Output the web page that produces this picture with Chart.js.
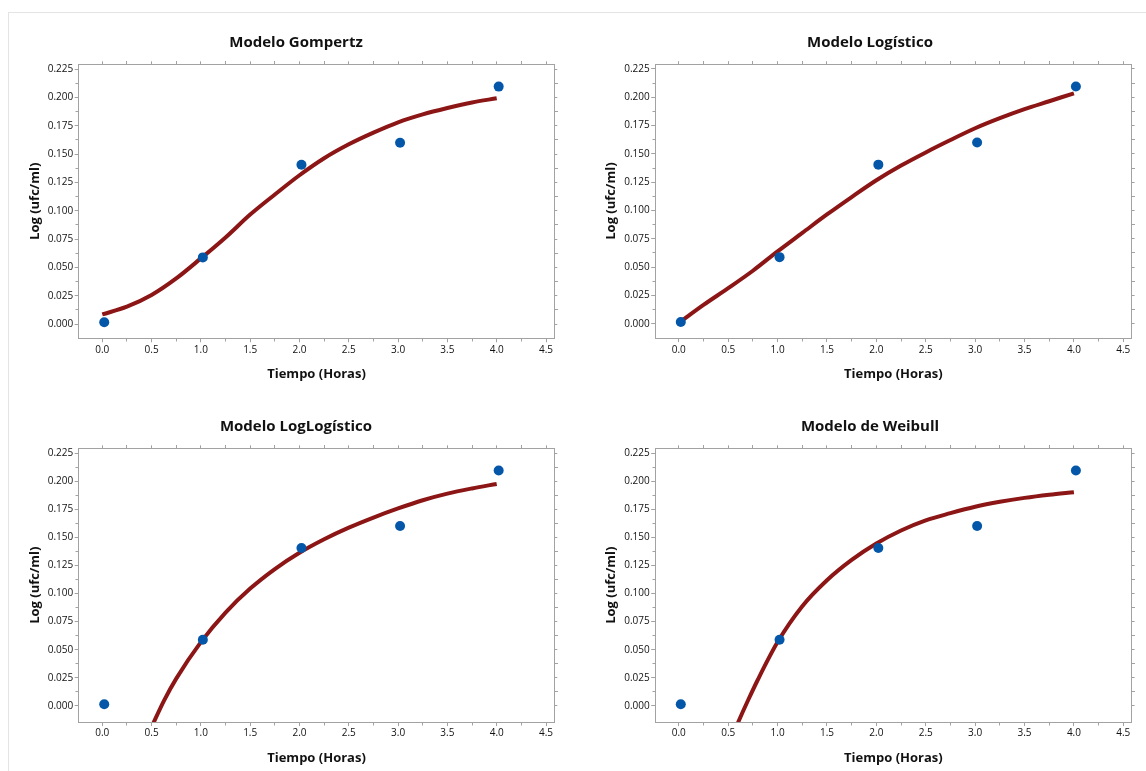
<!DOCTYPE html>
<html>
<head>
<meta charset="utf-8">
<script src="https://cdn.jsdelivr.net/npm/chart.js@4.4.0/dist/chart.umd.min.js"></script>
<style>
  html, body { margin: 0; padding: 0; background: #ffffff; width: 1146px; height: 771px; overflow: hidden; position: relative; }
  .frame { position: absolute; left: 8px; top: 12px; width: 1300px; height: 900px; border: 1px solid #e4e4e4; box-sizing: border-box; }
  .panel { position: absolute; }
  canvas { display: block; }
</style>
</head>
<body>
<div class="frame"></div>
<div class="panel" style="left:20px;top:0px;"><canvas id="c1" width="552" height="385"></canvas></div>
<div class="panel" style="left:594px;top:0px;"><canvas id="c2" width="552" height="385"></canvas></div>
<div class="panel" style="left:20px;top:385px;"><canvas id="c3" width="552" height="386"></canvas></div>
<div class="panel" style="left:594px;top:385px;"><canvas id="c4" width="552" height="386"></canvas></div>
<script>
// ---------------- DATA ----------------
const panelTitles = ['Modelo Gompertz', 'Modelo Logístico', 'Modelo LogLogístico', 'Modelo de Weibull'];
const xAxisTitle = 'Tiempo (Horas)';
const yAxisTitle = 'Log (ufc/ml)';

// observed data (same in every panel)
const timeHours = [0.02, 1.02, 2.02, 3.02, 4.02];
const logUfc    = [0.0015, 0.0588, 0.1405, 0.1600, 0.2095];

// fitted curves
const gompertzX = [0, 0.25, 0.5, 0.75, 1.0, 1.25, 1.5, 1.75, 2.0, 2.25, 2.5, 2.75, 3.0, 3.25, 3.5, 3.75, 4.0];
const gompertzY = [0.0085, 0.0153, 0.0256, 0.0402, 0.0579, 0.0764, 0.0966, 0.1143, 0.1313, 0.1463, 0.1586, 0.1689, 0.1780, 0.1850, 0.1906, 0.1955, 0.1992];

const logisticX = [0.02, 0.25, 0.5, 0.75, 1.0, 1.25, 1.5, 1.75, 2.0, 2.25, 2.5, 2.75, 3.0, 3.25, 3.5, 3.75, 4.0];
const logisticY = [0.0020, 0.0166, 0.0314, 0.0468, 0.0639, 0.0802, 0.0965, 0.1119, 0.1267, 0.1397, 0.1513, 0.1622, 0.1726, 0.1815, 0.1895, 0.1965, 0.2035];

const loglogX = [0.5, 0.625, 0.75, 1.0, 1.25, 1.5, 1.75, 2.0, 2.25, 2.5, 2.75, 3.0, 3.25, 3.5, 3.75, 4.0];
const loglogY = [-0.0188, 0.0045, 0.0243, 0.0568, 0.0831, 0.1044, 0.1218, 0.1363, 0.1483, 0.1586, 0.1676, 0.1757, 0.1830, 0.1889, 0.1935, 0.1975];

const weibullX = [0.55, 0.6, 0.7, 0.8, 1.0, 1.25, 1.5, 1.75, 2.0, 2.25, 2.5, 2.75, 3.0, 3.25, 3.5, 3.75, 4.0];
const weibullY = [-0.0250, -0.0147, 0.0048, 0.0233, 0.0568, 0.0887, 0.1118, 0.1299, 0.1445, 0.1561, 0.1651, 0.1715, 0.1772, 0.1816, 0.1851, 0.1879, 0.1902];

// axis ticks
const xTickValues = [0, 0.5, 1.0, 1.5, 2.0, 2.5, 3.0, 3.5, 4.0, 4.5];
const xTickLabels = ['0.0', '0.5', '1.0', '1.5', '2.0', '2.5', '3.0', '3.5', '4.0', '4.5'];
const xMinorTicks = [0.25, 0.75, 1.25, 1.75, 2.25, 2.75, 3.25, 3.75, 4.25];
const yTickValues = [0, 0.025, 0.05, 0.075, 0.1, 0.125, 0.15, 0.175, 0.2, 0.225];
const yTickLabels = ['0.000', '0.025', '0.050', '0.075', '0.100', '0.125', '0.150', '0.175', '0.200', '0.225'];
const yMinorTicks = [0.0125, 0.0375, 0.0625, 0.0875, 0.1125, 0.1375, 0.1625, 0.1875, 0.2125];

// axis ranges
const X_MIN = -0.239, X_MAX = 4.584;
const Y_MAX = 0.2292;
const Y_MIN_TOP = -0.0126, Y_MIN_BOTTOM = -0.0143;

// ---------------- STYLE / LAYOUT ----------------
const AXIS_COLOR = '#a2a2a2';
const TEXT_COLOR = '#111111';
const DOT_COLOR = '#0457a8';
const LINE_COLOR = '#8c1616';
Chart.defaults.font.family = "'Open Sans', 'Noto Sans', sans-serif";

const layouts = [
  { W: 552, H: 385, titleY: 43, left: 58.7, right: 534.3, top: 64.3, bottom: 338.3, xTickPad: 1.7, xTitlePB: 2.7, yTitleCx: 15, yMin: Y_MIN_TOP },
  { W: 552, H: 385, titleY: 43, left: 61.2, right: 537.6, top: 64.2, bottom: 338.0, xTickPad: 1.9, xTitlePB: 2.7, yTitleCx: 17, yMin: Y_MIN_TOP },
  { W: 552, H: 386, titleY: 42, left: 58.7, right: 534.3, top: 63.3, bottom: 337.0, xTickPad: 1.3, xTitlePB: 5.2, yTitleCx: 15, yMin: Y_MIN_BOTTOM },
  { W: 552, H: 386, titleY: 42, left: 61.2, right: 537.6, top: 63.3, bottom: 337.0, xTickPad: 1.3, xTitlePB: 5.2, yTitleCx: 17, yMin: Y_MIN_BOTTOM }
];

const curves = [[gompertzX, gompertzY], [logisticX, logisticY], [loglogX, loglogY], [weibullX, weibullY]];

const alignPx = p => Math.round(p - 0.5) + 0.5;

const minorTicksPlugin = {
  id: 'minorTicks',
  afterDraw(chart) {
    const { ctx, chartArea: a } = chart;
    const sx = chart.scales.x, sy = chart.scales.y;
    const b = alignPx(a.bottom), t = alignPx(a.top), l = alignPx(a.left), r = alignPx(a.right);
    ctx.save();
    ctx.strokeStyle = AXIS_COLOR;
    ctx.lineWidth = 1;
    ctx.beginPath();
    xMinorTicks.forEach(v => {
      const p = alignPx(sx.getPixelForValue(v));
      ctx.moveTo(p, b + 0.5); ctx.lineTo(p, b + 3);
      ctx.moveTo(p, t - 0.5); ctx.lineTo(p, t - 3.5);
    });
    yMinorTicks.forEach(v => {
      const p = alignPx(sy.getPixelForValue(v));
      ctx.moveTo(l - 0.5, p); ctx.lineTo(l - 3, p);
      ctx.moveTo(r + 0.5, p); ctx.lineTo(r + 3.5, p);
    });
    ctx.stroke();
    ctx.restore();
  }
};

function makePanel(idx) {
  const g = layouts[idx];
  const [cx, cy] = curves[idx];
  const titleSize = 15;
  const titleFont = { size: titleSize, weight: 'bold' };
  const titleLH = titleSize * 1.2;
  const padTop = g.titleY - titleLH / 2;
  const x2H = 6;
  const padBottom = g.top - x2H - padTop - titleLH;
  const axisTitleFont = { size: 13, weight: 'bold' };
  const axisLH = 13 * 1.2;

  const setX = s => { s.ticks = xTickValues.map(v => ({ value: v })); };
  const setY = s => { s.ticks = yTickValues.map(v => ({ value: v })); };

  new Chart(document.getElementById('c' + (idx + 1)), {
    type: 'scatter',
    data: {
      datasets: [
        {
          data: timeHours.map((x, i) => ({ x: x, y: logUfc[i] })),
          pointRadius: 5, pointHoverRadius: 5,
          backgroundColor: DOT_COLOR, borderWidth: 0, pointBorderWidth: 0
        },
        {
          data: cx.map((x, i) => ({ x: x, y: cy[i] })),
          showLine: true, pointRadius: 0, pointHoverRadius: 0,
          borderColor: LINE_COLOR, borderWidth: 4,
          cubicInterpolationMode: 'monotone', clip: 0
        }
      ]
    },
    options: {
      responsive: false,
      animation: false,
      events: [],
      layout: { padding: 0 },
      plugins: {
        legend: { display: false },
        tooltip: { enabled: false },
        title: {
          display: true, text: panelTitles[idx], color: TEXT_COLOR, font: titleFont,
          padding: { top: padTop, bottom: padBottom }
        }
      },
      scales: {
        x: {
          type: 'linear', position: 'bottom', min: X_MIN, max: X_MAX, bounds: 'data',
          afterBuildTicks: setX,
          afterFit: s => { s.height = g.H - g.bottom; },
          ticks: {
            autoSkip: false, maxRotation: 0, minRotation: 0, padding: g.xTickPad,
            color: TEXT_COLOR, font: { size: 10 },
            callback: v => xTickLabels[xTickValues.findIndex(t => Math.abs(t - v) < 1e-9)]
          },
          grid: { drawOnChartArea: false, drawTicks: true, tickLength: 4, color: AXIS_COLOR, tickColor: AXIS_COLOR },
          border: { display: true, color: AXIS_COLOR, width: 1 },
          title: { display: true, text: xAxisTitle, color: TEXT_COLOR, font: axisTitleFont, padding: { top: 0, bottom: g.xTitlePB } }
        },
        x2: {
          type: 'linear', position: 'top', min: X_MIN, max: X_MAX, bounds: 'data',
          afterBuildTicks: setX,
          afterFit: s => { s.height = x2H; },
          ticks: { display: false },
          grid: { drawOnChartArea: false, drawTicks: true, tickLength: 3, color: AXIS_COLOR, tickColor: AXIS_COLOR },
          border: { display: true, color: AXIS_COLOR, width: 1 }
        },
        y: {
          type: 'linear', position: 'left', min: g.yMin, max: Y_MAX, bounds: 'data',
          afterBuildTicks: setY,
          afterFit: s => { s.width = g.left; },
          ticks: {
            autoSkip: false, padding: 1.5, color: TEXT_COLOR, font: { size: 10 },
            callback: v => yTickLabels[yTickValues.findIndex(t => Math.abs(t - v) < 1e-9)]
          },
          grid: { drawOnChartArea: false, drawTicks: true, tickLength: 4, color: AXIS_COLOR, tickColor: AXIS_COLOR },
          border: { display: true, color: AXIS_COLOR, width: 1 },
          title: { display: true, text: yAxisTitle, color: TEXT_COLOR, font: axisTitleFont, padding: { top: g.yTitleCx - axisLH / 2, bottom: 0 } }
        },
        y2: {
          type: 'linear', position: 'right', min: g.yMin, max: Y_MAX, bounds: 'data',
          afterBuildTicks: setY,
          afterFit: s => { s.width = g.W - g.right; },
          ticks: { display: false },
          grid: { drawOnChartArea: false, drawTicks: true, tickLength: 3, color: AXIS_COLOR, tickColor: AXIS_COLOR },
          border: { display: true, color: AXIS_COLOR, width: 1 }
        }
      }
    },
    plugins: [minorTicksPlugin]
  });
}

[0, 1, 2, 3].forEach(makePanel);
</script>
</body>
</html>
